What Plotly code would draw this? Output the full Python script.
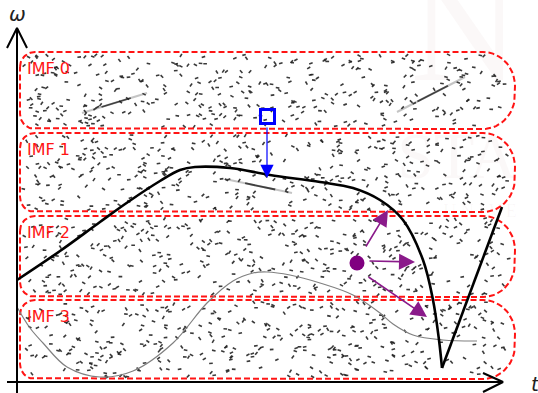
import numpy as np
import plotly.graph_objects as go

# ---------------------------------------------------------------
# Schematic: time-frequency plane (t, omega) split into IMF bands
# Coordinates are in plot units; origin sits at the axis corner.
# ---------------------------------------------------------------

# IMF band extents (t_left, t_right, omega_bottom, omega_top)
band_names = ["IMF 0", "IMF 1", "IMF 2", "IMF 3"]
band_left = [3, 3, 3, 3]
band_right = [498, 498, 498, 498]
band_bottom = [253, 170, 85, 3]
band_top = [330, 249, 166, 82]

# Thick black instantaneous-frequency curve (left branch ends at its minimum)
black_t = [0, 43, 83, 111, 143, 163, 178, 213, 253, 303, 336, 363, 386, 406, 416, 422, 425]
black_w = [102, 131, 160, 180, 201, 212, 215, 214, 207, 200, 194, 182, 162, 122, 82, 42, 14]
# straight rising branch after the minimum
black_rise_t = [425, 485]
black_rise_w = [14, 175]

# Thin grey curve
grey_t = [0, 13, 26, 50, 83, 116, 156, 190, 216, 236, 250, 273, 303, 336, 363, 376, 396, 426, 460]
grey_w = [75, 54, 39, 15, 5, 11, 39, 79, 101, 109, 110, 107, 99, 87, 69, 58, 47, 42, 41]

# Short faded streaks (start t, end t, start w, end w)
streak_t0 = [65, 380, 208]
streak_t1 = [130, 448, 275]
streak_w0 = [269, 270, 203]
streak_w1 = [289, 305, 189]

# Blue marker and its arrow
blue_sq_t, blue_sq_w = 250.5, 265.5
blue_arrow_t = [250, 250]
blue_arrow_w = [256, 204]

# Purple source point and its three arrows (tail -> head)
purple_t, purple_w = 340, 119
purple_tail_t = [348, 351, 350]
purple_tail_w = [134, 121, 106]
purple_head_t = [371, 398, 410]
purple_head_w = [172, 120, 65]

# Axis extents
t_axis_end, w_axis_end = 486, 354

RED = "#ff1414"
PURPLE = "#800080"

fig = go.Figure()

# faint background lettering
fig.add_trace(go.Scatter(
    x=[448, 440, 463], y=[340, 221, 170],
    mode="text", text=["N", "STA", "U N I V E"],
    textfont=dict(family="Liberation Serif", size=[150, 66, 18],
                  color="rgba(190,140,140,0.06)"),
    hoverinfo="skip", showlegend=False))

# noise speckle inside the bands (fixed seed so the texture is stable)
rng = np.random.default_rng(11)
sx, sy, sa = [], [], []
for l, r, b, t in zip(band_left, band_right, band_bottom, band_top):
    n = int((r - l) * (t - b) * 0.0095)
    xs = rng.uniform(l + 3, r - 6, n)
    ys = rng.uniform(b + 2, t - 2, n)
    # trim the rounded right cap
    cx = r - 34
    keep = (xs < cx) | (((xs - cx) / 32) ** 2 + ((ys - (b + t) / 2) / ((t - b) / 2)) ** 2 < 1)
    sx.extend(xs[keep]); sy.extend(ys[keep])
    sa.extend(rng.uniform(-60, 60, keep.sum()))
fig.add_trace(go.Scatter(
    x=sx, y=sy, mode="markers",
    marker=dict(symbol="line-ew", size=2.6, angle=sa,
                line=dict(width=1.6, color="rgba(35,35,35,0.9)")),
    hoverinfo="skip", showlegend=False))


def band_outline(l, r, b, t, rl=15, rr=34):
    """Closed outline of a band: small radius on the left, big cap on the right."""
    rr = min(rr, (t - b) / 2)
    xs, ys = [], []
    def arc(cx, cy, rx, ry, a0, a1):
        a = np.linspace(np.radians(a0), np.radians(a1), 16)
        xs.extend(cx + rx * np.cos(a)); ys.extend(cy + ry * np.sin(a))
    arc(l + rl, t - rl, rl, rl, 180, 90)
    arc(r - 32, t - rr, 32, rr, 90, 0)
    arc(r - 32, b + rr, 32, rr, 0, -90)
    arc(l + rl, b + rl, rl, rl, 270, 180)
    xs.append(xs[0]); ys.append(ys[0])
    return xs, ys


for name, l, r, b, t in zip(band_names, band_left, band_right, band_bottom, band_top):
    bx, by = band_outline(l, r, b, t)
    fig.add_trace(go.Scatter(x=bx, y=by, mode="lines",
                             line=dict(color=RED, width=2, dash="6px,3px"),
                             hoverinfo="skip", showlegend=False))
    fig.add_annotation(x=l + 5, y=t - 16, text=name, showarrow=False,
                       xanchor="left", yanchor="middle",
                       font=dict(family="DejaVu Sans", size=16, color=RED))

# faded streaks: pale full stroke plus darker core
for t0, t1, w0, w1 in zip(streak_t0, streak_t1, streak_w0, streak_w1):
    fig.add_trace(go.Scatter(x=[t0, t1], y=[w0, w1], mode="lines",
                             line=dict(color="rgba(60,60,60,0.3)", width=2),
                             hoverinfo="skip", showlegend=False))
    fig.add_trace(go.Scatter(x=[t0 + 0.3 * (t1 - t0), t0 + 0.75 * (t1 - t0)],
                             y=[w0 + 0.3 * (w1 - w0), w0 + 0.75 * (w1 - w0)],
                             mode="lines",
                             line=dict(color="rgba(20,20,20,0.75)", width=1.8),
                             hoverinfo="skip", showlegend=False))

# grey curve
fig.add_trace(go.Scatter(x=grey_t, y=grey_w, mode="lines",
                         line=dict(color="#808080", width=1.2, shape="spline"),
                         hoverinfo="skip", showlegend=False))

# black curve
fig.add_trace(go.Scatter(x=black_t, y=black_w, mode="lines",
                         line=dict(color="black", width=2.6, shape="spline"),
                         hoverinfo="skip", showlegend=False))
fig.add_trace(go.Scatter(x=black_rise_t, y=black_rise_w, mode="lines",
                         line=dict(color="black", width=2.6),
                         hoverinfo="skip", showlegend=False))

# blue square and arrow
fig.add_trace(go.Scatter(x=[blue_sq_t], y=[blue_sq_w], mode="markers",
                         marker=dict(symbol="square-open", size=14, color="#0000ff",
                                     line=dict(color="#0000ff", width=3)),
                         hoverinfo="skip", showlegend=False))
fig.add_annotation(x=blue_arrow_t[1], y=blue_arrow_w[1],
                   ax=blue_arrow_t[0], ay=blue_arrow_w[0],
                   xref="x", yref="y", axref="x", ayref="y", text="",
                   showarrow=True, arrowhead=2, arrowsize=2.2, arrowwidth=1.2,
                   arrowcolor="#0000ff")

# purple point and arrows
fig.add_trace(go.Scatter(x=[purple_t], y=[purple_w], mode="markers",
                         marker=dict(symbol="circle", size=15, color=PURPLE),
                         hoverinfo="skip", showlegend=False))
for tt, tw, ht, hw in zip(purple_tail_t, purple_tail_w, purple_head_t, purple_head_w):
    fig.add_annotation(x=ht, y=hw, ax=tt, ay=tw,
                       xref="x", yref="y", axref="x", ayref="y", text="",
                       showarrow=True, arrowhead=2, arrowsize=2.0, arrowwidth=1.6,
                       arrowcolor="#8a1a8a")

# axes with open arrow heads
fig.add_trace(go.Scatter(x=[0, 0, None, -10, 0, 10], y=[-12, w_axis_end, None, w_axis_end - 20, w_axis_end, w_axis_end - 20],
                         mode="lines", line=dict(color="black", width=2),
                         hoverinfo="skip", showlegend=False))
fig.add_trace(go.Scatter(x=[-10, t_axis_end, None, t_axis_end - 20, t_axis_end, t_axis_end - 20],
                         y=[0, 0, None, 9, 0, -10],
                         mode="lines", line=dict(color="black", width=2),
                         hoverinfo="skip", showlegend=False))
fig.add_annotation(x=0, y=368, text="<i>ω</i>", showarrow=False,
                   font=dict(family="DejaVu Sans", size=20, color="#222"))
fig.add_annotation(x=518, y=-2, text="<i>t</i>", showarrow=False,
                   font=dict(family="DejaVu Sans", size=20, color="#222"))

fig.update_layout(
    width=538, height=393,
    margin=dict(l=0, r=0, t=0, b=0),
    paper_bgcolor="white", plot_bgcolor="white",
    xaxis=dict(range=[-17, 521], visible=False, fixedrange=True),
    yaxis=dict(range=[-11, 382], visible=False, fixedrange=True),
    showlegend=False,
)

fig.write_html("out.html")
